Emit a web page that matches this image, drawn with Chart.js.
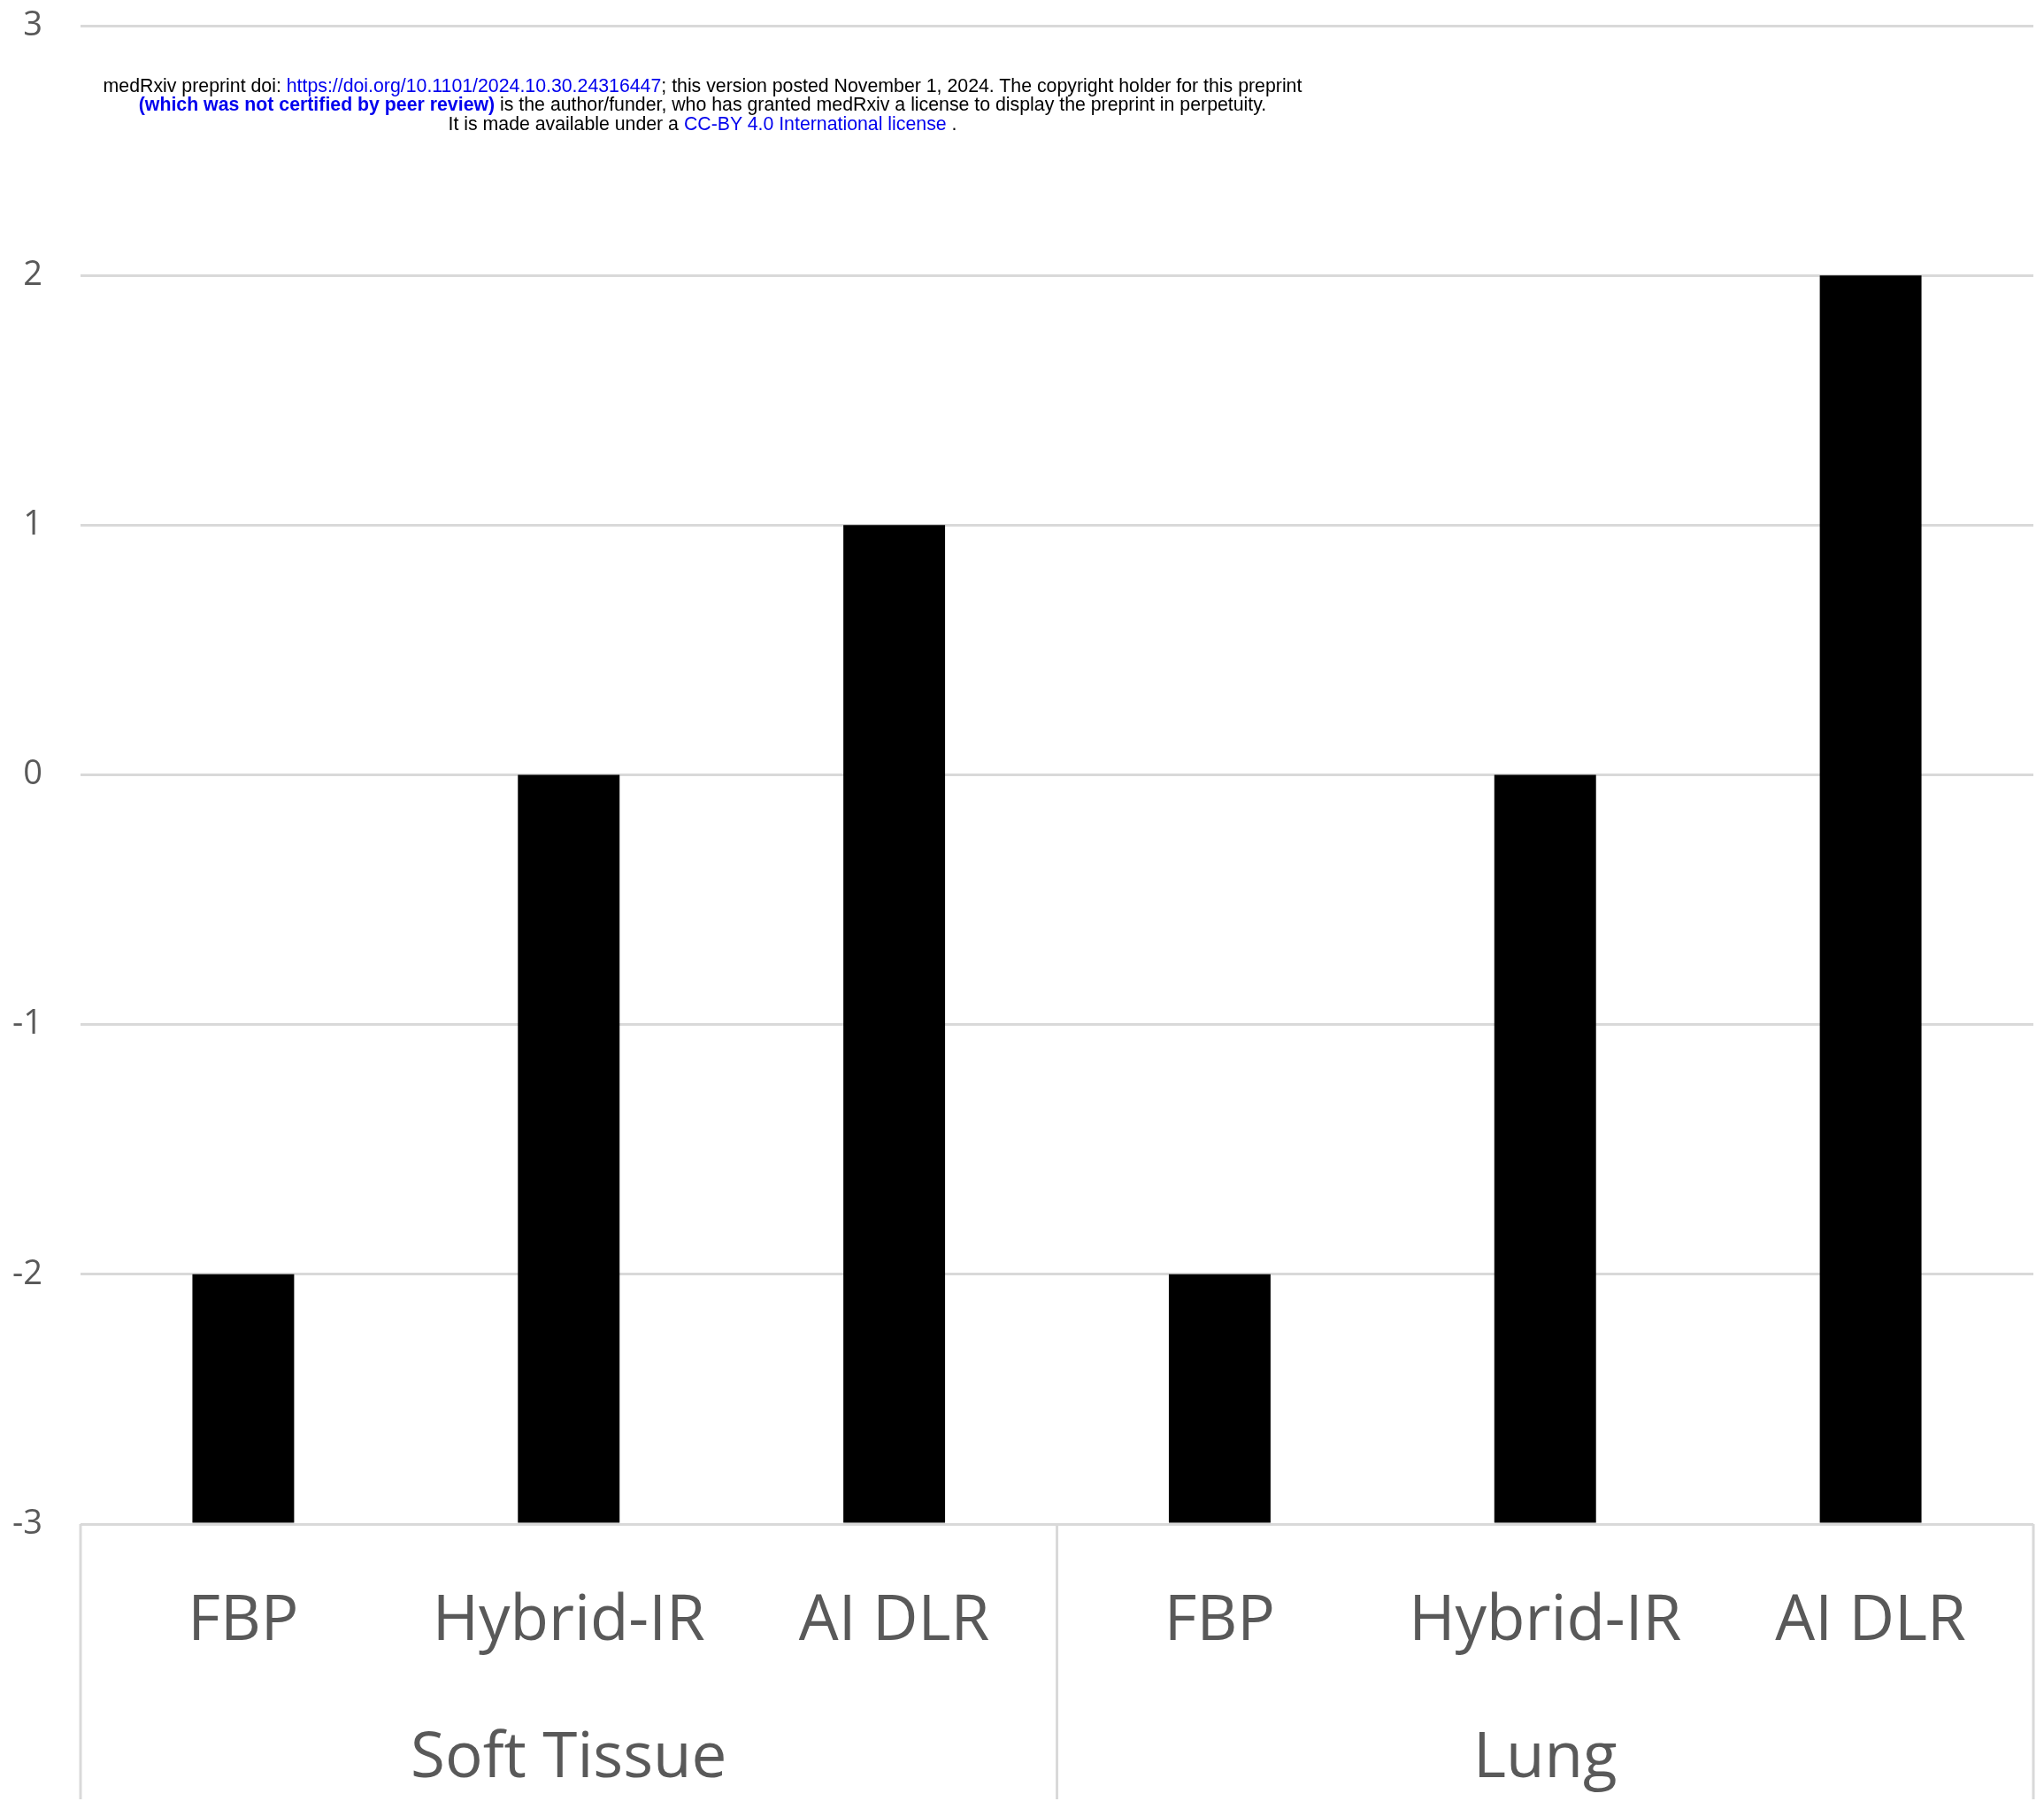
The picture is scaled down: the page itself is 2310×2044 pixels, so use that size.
<!DOCTYPE html>
<html>
<head>
<meta charset="utf-8">
<script src="https://cdn.jsdelivr.net/npm/chart.js@4.4.1/dist/chart.umd.min.js"></script>
<style>
  html, body { margin: 0; padding: 0; background: #fff; }
  #wrap { position: relative; width: 2310px; height: 2044px; }
  canvas { position: absolute; left: 0; top: 0; }
  .notice {
    position: absolute; left: 0; width: 1588px; text-align: center;
    font-family: "Liberation Sans", Arial, sans-serif; font-size: 21.3px;
    color: #000; white-space: nowrap; line-height: 22px;
  }
  .notice a { color: #0000ee; text-decoration: none; }
  .notice b { color: #0000ee; }
</style>
</head>
<body>
<div id="wrap">
  <canvas id="c" width="2310" height="2044"></canvas>
  <div class="notice" style="top:86px">medRxiv preprint doi: <a>https://doi.org/10.1101/2024.10.30.24316447</a>; this version posted November 1, 2024. The copyright holder for this preprint</div>
  <div class="notice" style="top:107px"><b>(which was not certified by peer review)</b> is the author/funder, who has granted medRxiv a license to display the preprint in perpetuity.</div>
  <div class="notice" style="top:129px">It is made available under a <a>CC-BY 4.0 International license</a> .</div>
</div>
<script>
// Reconstruction methods within each image type
const methods = ['FBP', 'Hybrid-IR', 'AI DLR', 'FBP', 'Hybrid-IR', 'AI DLR'];
const groups = ['Soft Tissue', 'Lung'];
const scores = [-2, 0, 1, -2, 0, 2];
const yTicks = [-3, -2, -1, 0, 1, 2, 3];

const grey = '#d9d9d9';
const labelGrey = '#595959';

// Vertical separators between the two groups of categories
const groupSeparators = {
  id: 'groupSeparators',
  afterDraw(chart) {
    const x = chart.scales.x;
    const ctx = chart.ctx;
    const per = methods.length / groups.length;
    const step = (x.getPixelForValue(1) - x.getPixelForValue(0));
    ctx.save();
    ctx.strokeStyle = grey;
    ctx.lineWidth = 3;
    for (let g = 0; g <= groups.length; g++) {
      const px = x.getPixelForValue(g * per) - step / 2;
      ctx.beginPath();
      ctx.moveTo(px, chart.chartArea.bottom);
      ctx.lineTo(px, chart.height - 11);
      ctx.stroke();
    }
    ctx.restore();
  }
};

new Chart(document.getElementById('c'), {
  type: 'bar',
  data: {
    labels: methods,
    datasets: [{
      data: scores,
      base: yTicks[0],
      backgroundColor: '#000',
      borderWidth: 0,
      categoryPercentage: 1,
      barPercentage: 0.3125
    }]
  },
  options: {
    responsive: false,
    animation: false,
    devicePixelRatio: 1,
    layout: { padding: { top: 29, right: 12, left: 0, bottom: 0 } },
    plugins: { legend: { display: false }, tooltip: { enabled: false } },
    scales: {
      y: {
        min: yTicks[0],
        max: yTicks[yTicks.length - 1],
        afterBuildTicks(s) { s.ticks = yTicks.map(v => ({ value: v })); },
        afterFit(s) { s.width = 91; s.paddingTop = 0; s.paddingBottom = 0; },
        grid: { color: grey, lineWidth: 3, drawTicks: false },
        border: { display: false },
        ticks: {
          padding: 43,
          color: labelGrey,
          font: { family: 'Open Sans', size: 38 }
        }
      },
      x: {
        offset: true,
        afterFit(s) { s.height = 150; s.paddingLeft = 0; s.paddingRight = 0; },
        grid: { display: false },
        border: { display: false },
        ticks: {
          padding: 60,
          color: labelGrey,
          maxRotation: 0,
          autoSkip: false,
          font: { family: 'Open Sans', size: 71 }
        }
      },
      x2: {
        type: 'category',
        position: 'bottom',
        labels: groups,
        offset: true,
        afterFit(s) { s.height = 172; s.paddingLeft = 0; s.paddingRight = 0; },
        grid: { display: false },
        border: { display: false },
        ticks: {
          padding: 65,
          color: labelGrey,
          maxRotation: 0,
          autoSkip: false,
          font: { family: 'Open Sans', size: 71 }
        }
      }
    }
  },
  plugins: [groupSeparators]
});
</script>
</body>
</html>
